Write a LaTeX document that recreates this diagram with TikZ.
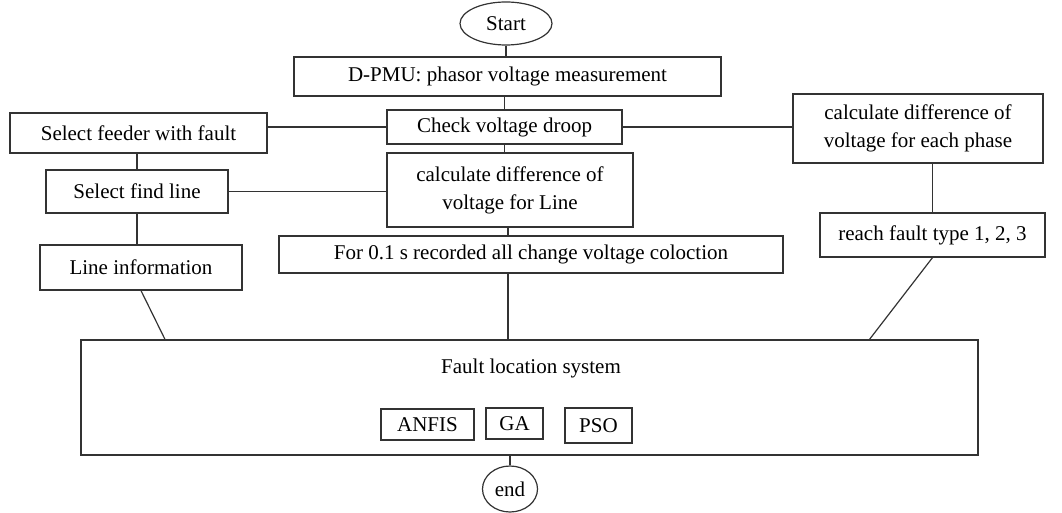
\documentclass[tikz,border=0pt]{standalone}
\usepackage{fontspec}
\setmainfont{Liberation Serif}
\tikzset{
  blk/.style={draw=black!80, line width=1.2pt, rectangle, inner sep=0pt, align=center,
    font=\fontsize{21}{28}\selectfont},
  term/.style={draw=black!80, line width=1.2pt, ellipse, inner sep=0pt,
    font=\fontsize{21}{24}\selectfont},
  link/.style={draw=black!80, line width=1.2pt}
}
\usetikzlibrary{shapes.geometric}
\begin{document}
\begin{tikzpicture}[x=1pt, y=-1pt]
  \useasboundingbox (0,0) rectangle (1062,513);
  \node[term, minimum width=92pt, minimum height=43pt] (start) at (506,23.5) {Start};
  \node[blk, minimum width=427pt, minimum height=39pt] (dpmu) at (507.5,76.5) {D-PMU: phasor voltage measurement};
  \node[blk, minimum width=235pt, minimum height=34pt] (droop) at (504.5,127) {Check voltage droop};
  \node[blk, minimum width=257pt, minimum height=40pt] (feeder) at (138.5,133) {Select feeder with fault};
  \node[blk, minimum width=250pt, minimum height=69pt] (phase) at (918,128.5) {calculate difference of\\voltage for each phase};
  \node[blk, minimum width=182pt, minimum height=43pt] (findline) at (137,191.5) {Select find line};
  \node[blk, minimum width=246pt, minimum height=74pt] (calcline) at (510,190) {calculate difference of\\voltage for Line};
  \node[blk, minimum width=225pt, minimum height=44pt] (reach) at (932.5,235) {reach fault type 1, 2, 3};
  \node[blk, minimum width=504pt, minimum height=37pt] (record) at (531,254.5) {For 0.1 s recorded all change voltage coloction};
  \node[blk, minimum width=202pt, minimum height=45pt] (lineinfo) at (141,267.5) {Line information};
  \node[blk, minimum width=897pt, minimum height=115pt] (fls) at (529.5,397.5) {};
  \node[font=\fontsize{21}{24}\selectfont, inner sep=0pt] (flstxt) at (531,368) {Fault location system};
  \node[blk, minimum width=93pt, minimum height=31pt] (anfis) at (427.5,424.5) {ANFIS};
  \node[blk, minimum width=57pt, minimum height=31pt] (ga) at (514.5,423.5) {GA};
  \node[blk, minimum width=67pt, minimum height=35pt] (pso) at (598.5,425.5) {PSO};
  \node[term, minimum width=55pt, minimum height=46pt] (fin) at (510,489) {end};
  \begin{scope}[link]
    \draw (start.south) -- (start.south |- dpmu.north);
    \draw (droop.north) -- (droop.north |- dpmu.south);
    \draw (droop.west) -- (droop.west -| feeder.east);
    \draw (droop.east) -- (droop.east -| phase.west);
    \draw (droop.south) -- (droop.south |- calcline.north);
    \draw (findline.north) -- (findline.north |- feeder.south);
    \draw (findline.east) -- (findline.east -| calcline.west);
    \draw (findline.south) -- (findline.south |- lineinfo.north);
    \draw ([xshift=-2pt]calcline.south) -- ([xshift=-2pt]calcline.south |- record.north);
    \draw ([xshift=-2pt]calcline.south |- record.south) -- ([xshift=-2pt]calcline.south |- fls.north);
    \draw (lineinfo.south) -- ([xshift=24pt]lineinfo.south |- fls.north);
    \draw (reach.north) -- (reach.north |- phase.south);
    \draw (reach.south) -- ([xshift=-63pt]reach.south |- fls.north);
    \draw (fin.north) -- (fin.north |- fls.south);
  \end{scope}
\end{tikzpicture}
\end{document}
